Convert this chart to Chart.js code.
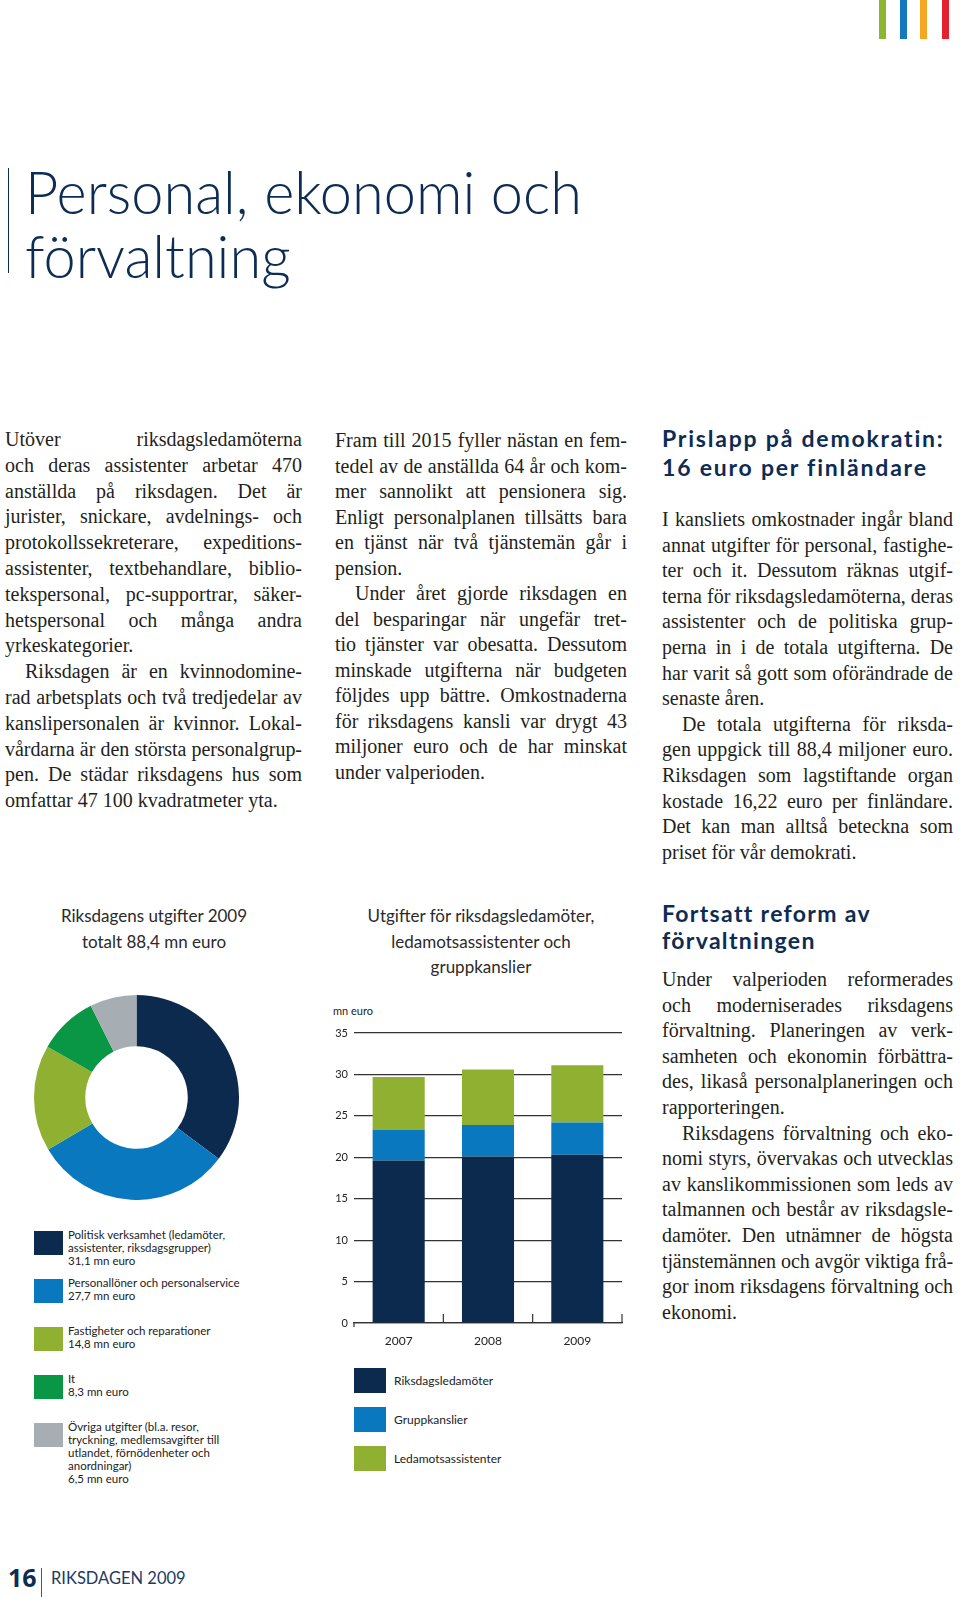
<!DOCTYPE html>
<html lang="sv">
<head>
<meta charset="utf-8">
<title>Personal, ekonomi och förvaltning</title>
<script src="https://cdn.jsdelivr.net/npm/chart.js@4"></script>
<style>
  html, body { margin: 0; padding: 0; background: #fff; }
  body { width: 960px; height: 1597px; position: relative; overflow: hidden; font-family: "Liberation Serif", serif; color: #231f20; }
  .abs { position: absolute; }
  .line { position: absolute; white-space: nowrap; font-size: 20px; line-height: 22px; text-align: justify; text-align-last: justify; }
  .line.last { text-align-last: left; }
  .head { position: absolute; font-family: Lato, sans-serif; font-weight: 700; font-size: 23px; line-height: 24px; color: #0d2c54; white-space: nowrap; }
  .ctitle { position: absolute; font-family: Lato, sans-serif; font-size: 17px; line-height: 25.5px; color: #2a2a2a; text-align: center; }
  .bars { position: absolute; top: 0; width: 7px; height: 39px; }
  .lg { position: absolute; font-family: Lato, sans-serif; font-size: 11.5px; line-height: 13px; color: #222; }
  .sw { position: absolute; }
</style>
</head>
<body>

<!-- colour bars top right -->
<div class="bars" style="left:879px;background:#8db633"></div>
<div class="bars" style="left:900px;background:#1478be"></div>
<div class="bars" style="left:920px;background:#f5a623"></div>
<div class="bars" style="left:942px;background:#e2232f"></div>

<!-- page title -->
<div class="abs" style="left:8px;top:168px;width:1px;height:105px;background:#0d2c54"></div>
<div id="title" class="abs" style="left:25px;top:160px;font-family:Lato,sans-serif;font-weight:300;font-size:59px;line-height:64px;color:#0d2c54;white-space:nowrap;transform-origin:left top">Personal, ekonomi och<br>förvaltning</div>

<!-- chart titles -->
<div class="ctitle" style="left:4px;top:903px;width:300px">Riksdagens utgifter 2009<br>totalt 88,4 mn euro</div>
<div class="ctitle" style="left:330px;top:903px;width:302px">Utgifter för riksdagsledamöter,<br>ledamotsassistenter och<br>gruppkanslier</div>
<div class="abs" style="left:333px;top:1004px;font-family:Lato,sans-serif;font-size:11px;color:#222">mn euro</div>

<canvas id="donut" class="abs" width="205" height="205" style="left:34px;top:995px;width:205px;height:205px"></canvas>
<canvas id="bars" class="abs" width="310" height="350" style="left:320px;top:1000px;width:310px;height:350px"></canvas>

<div id="donutLegend"></div>
<div id="barLegend"></div>

<!-- footer -->
<div class="abs" style="left:8px;top:1562px;font-family:'Noto Sans',sans-serif;font-weight:700;font-size:25px;line-height:30px;color:#0d2c54">16</div>
<div class="abs" style="left:41px;top:1568px;width:1px;height:29px;background:#555"></div>
<div class="abs" style="left:51px;top:1567px;font-family:Lato,sans-serif;font-size:16.5px;line-height:22px;color:#1d3a5f">RIKSDAGEN 2009</div>

<script>
// --- chart data ---
const years = ['2007', '2008', '2009'];
const ledamoter = [19.6, 20.1, 20.3];
const gruppkanslier = [3.7, 3.8, 3.9];
const assistenter = [6.4, 6.7, 6.9];
const barSeries = ['Riksdagsledamöter', 'Gruppkanslier', 'Ledamotsassistenter'];
const yTicks = [0, 5, 10, 15, 20, 25, 30, 35];

const costLabels = [
    'Politisk verksamhet (ledamöter,\nassistenter, riksdagsgrupper)',
    'Personallöner och personalservice',
    'Fastigheter och reparationer',
    'It',
    'Övriga utgifter (bl.a. resor,\ntryckning, medlemsavgifter till\nutlandet, förnödenheter och\nanordningar)'
];
const costValues = [31.1, 27.7, 14.8, 8.3, 6.5];

const NAVY = '#0b2a4d', BLUE = '#0a78be', LIME = '#8fb031', GREEN = '#099645', GREY = '#a6aeb4';
const costColors = [NAVY, BLUE, LIME, GREEN, GREY];
const barColors = [NAVY, BLUE, LIME];

// --- body text, one entry per printed line ("|" = last line of paragraph, ">" = indent) ---
const colLeft = [
    'Utöver riksdagsledamöterna', 'och deras assistenter arbetar 470', 'anställda på riksdagen. Det är',
    'jurister, snickare, avdelnings- och', 'protokollssekreterare, expeditions-', 'assistenter, textbehandlare, biblio-',
    'tekspersonal, pc-supportrar, säker-', 'hetspersonal och många andra', 'yrkeskategorier.|',
    '>Riksdagen är en kvinnodomine-', 'rad arbetsplats och två tredjedelar av', 'kanslipersonalen är kvinnor. Lokal-',
    'vårdarna är den största personalgrup-', 'pen. De städar riksdagens hus som', 'omfattar 47 100 kvadratmeter yta.|'
];
const colMid = [
    'Fram till 2015 fyller nästan en fem-', 'tedel av de anställda 64 år och kom-', 'mer sannolikt att pensionera sig.',
    'Enligt personalplanen tillsätts bara', 'en tjänst när två tjänstemän går i', 'pension.|',
    '>Under året gjorde riksdagen en', 'del besparingar när ungefär tret-', 'tio tjänster var obesatta. Dessutom',
    'minskade utgifterna när budgeten', 'följdes upp bättre. Omkostnaderna', 'för riksdagens kansli var drygt 43',
    'miljoner euro och de har minskat', 'under valperioden.|'
];
const colRight1 = [
    'I kansliets omkostnader ingår bland', 'annat utgifter för personal, fastighe-', 'ter och it. Dessutom räknas utgif-',
    'terna för riksdagsledamöterna, deras', 'assistenter och de politiska grup-', 'perna in i de totala utgifterna. De',
    'har varit så gott som oförändrade de', 'senaste åren.|',
    '>De totala utgifterna för riksda-', 'gen uppgick till 88,4 miljoner euro.', 'Riksdagen som lagstiftande organ',
    'kostade 16,22 euro per finländare.', 'Det kan man alltså beteckna som', 'priset för vår demokrati.|'
];
const colRight2 = [
    'Under valperioden reformerades', 'och moderniserades riksdagens', 'förvaltning. Planeringen av verk-',
    'samheten och ekonomin förbättra-', 'des, likaså personalplaneringen och', 'rapporteringen.|',
    '>Riksdagens förvaltning och eko-', 'nomi styrs, övervakas och utvecklas', 'av kanslikommissionen som leds av',
    'talmannen och består av riksdagsle-', 'damöter. Den utnämner de högsta', 'tjänstemännen och avgör viktiga frå-',
    'gor inom riksdagens förvaltning och', 'ekonomi.|'
];

function column(lines, x, w, firstCenter, lh) {
    lines.forEach((raw, i) => {
        let txt = raw, last = false, indent = 0;
        if (txt.endsWith('|')) { last = true; txt = txt.slice(0, -1); }
        if (txt.startsWith('>')) { indent = 20; txt = txt.slice(1); }
        const d = document.createElement('div');
        d.className = 'line' + (last ? ' last' : '');
        d.style.left = (x + indent) + 'px';
        d.style.width = (w - indent) + 'px';
        d.style.top = (firstCenter + i * lh - 12) + 'px';
        const probe = document.createElement('span');
        probe.textContent = txt;
        d.appendChild(probe);
        document.body.appendChild(d);
        const natural = probe.getBoundingClientRect().width;
        if (natural > w - indent) {
            d.style.letterSpacing = (-(natural - (w - indent) + 1) / txt.length) + 'px';
        }
    });
}
column(colLeft, 5, 297, 440, 25.8);
column(colMid, 335, 292, 441, 25.5);
column(colRight1, 662, 291, 520, 25.6);
column(colRight2, 662, 291, 980, 25.6);

// headings: one div per line, first line stretched to the printed width
function heading(lines, x, firstCenter, lh, firstWidth) {
    const divs = lines.map((t, i) => {
        const d = document.createElement('div');
        d.className = 'head';
        d.style.left = x + 'px';
        d.style.top = (firstCenter + i * lh - 12) + 'px';
        d.textContent = t;
        document.body.appendChild(d);
        return d;
    });
    const w = divs[0].getBoundingClientRect().width;
    const ls = (firstWidth - w) / lines[0].length;
    divs.forEach(d => { d.style.letterSpacing = ls + 'px'; });
}
heading(['Prislapp på demokratin:', '16 euro per finländare'], 662, 438, 29, 283);
heading(['Fortsatt reform av', 'förvaltningen'], 662, 913, 27, 208);

// squeeze page title to the printed width
const title = document.getElementById('title');
const tw = title.getBoundingClientRect().width;
title.style.transform = 'scaleX(' + (557 / tw) + ')';

// --- legends built from the arrays ---
const dl = document.getElementById('donutLegend');
costLabels.forEach((lab, i) => {
    const top = 1231 + i * 48;
    const sw = document.createElement('div');
    sw.className = 'sw';
    sw.style.cssText = `left:34px;top:${top}px;width:29px;height:24px;background:${costColors[i]}`;
    dl.appendChild(sw);
    const t = document.createElement('div');
    t.className = 'lg';
    t.style.left = '68px';
    t.style.top = (top - 3) + 'px';
    t.innerHTML = (lab + '\n' + costValues[i].toFixed(1).replace('.', ',') + ' mn euro').split('\n').join('<br>');
    dl.appendChild(t);
});

const bl = document.getElementById('barLegend');
barSeries.forEach((lab, i) => {
    const top = 1368 + i * 39;
    const sw = document.createElement('div');
    sw.className = 'sw';
    sw.style.cssText = `left:354px;top:${top}px;width:32px;height:25px;background:${barColors[i]}`;
    bl.appendChild(sw);
    const t = document.createElement('div');
    t.className = 'lg';
    t.style.cssText = `left:394px;top:${top + 6}px;font-size:12px`;
    t.textContent = lab;
    bl.appendChild(t);
});

// --- doughnut ---
new Chart(document.getElementById('donut'), {
    type: 'doughnut',
    data: {
        labels: costLabels,
        datasets: [{ data: costValues, backgroundColor: costColors, borderWidth: 0, hoverOffset: 0 }]
    },
    options: {
        responsive: false,
        animation: false,
        cutout: '50%',
        layout: { padding: 0 },
        plugins: { legend: { display: false }, tooltip: { enabled: false } }
    }
});

// small upward ticks between the categories on the x axis
const categoryTicks = {
    id: 'categoryTicks',
    afterDatasetsDraw(chart) {
        const x = chart.scales.x, y0 = chart.scales.y.getPixelForValue(0);
        const ctx = chart.ctx;
        ctx.save();
        ctx.strokeStyle = '#333';
        ctx.lineWidth = 1.2;
        for (let i = 0; i < years.length; i++) {
            const px = i < years.length - 1
                ? (x.getPixelForValue(i) + x.getPixelForValue(i + 1)) / 2
                : chart.chartArea.right;
            ctx.beginPath();
            ctx.moveTo(px, y0);
            ctx.lineTo(px, y0 - 9);
            ctx.stroke();
        }
        ctx.beginPath();
        ctx.moveTo(chart.chartArea.left, y0);
        ctx.lineTo(chart.chartArea.left, y0 + 4);
        ctx.stroke();
        ctx.restore();
    }
};

// --- stacked bars ---
new Chart(document.getElementById('bars'), {
    type: 'bar',
    data: {
        labels: years,
        datasets: [
            { label: barSeries[0], data: ledamoter, backgroundColor: NAVY },
            { label: barSeries[1], data: gruppkanslier, backgroundColor: BLUE },
            { label: barSeries[2], data: assistenter, backgroundColor: LIME }
        ]
    },
    options: {
        responsive: false,
        animation: false,
        layout: { padding: { top: 33, right: 8, left: 0, bottom: 0 } },
        datasets: { bar: { categoryPercentage: 1, barPercentage: 0.583, borderWidth: 0 } },
        plugins: { legend: { display: false }, tooltip: { enabled: false } },
        scales: {
            x: {
                stacked: true,
                afterFit(s) { s.height = 27; },
                grid: { display: false },
                border: { display: true, color: '#333', width: 1.2 },
                ticks: { color: '#222', font: { family: 'Lato', size: 12 }, padding: 3 }
            },
            y: {
                stacked: true,
                min: 0,
                max: 35,
                afterFit(s) { s.width = 34; },
                afterBuildTicks(s) { s.ticks = yTicks.map(v => ({ value: v })); },
                grid: { color: '#333', lineWidth: 1.2, drawTicks: false },
                border: { display: false },
                ticks: { color: '#222', font: { family: 'Lato', size: 11 }, padding: 6 }
            }
        }
    },
    plugins: [categoryTicks]
});
</script>
</body>
</html>
